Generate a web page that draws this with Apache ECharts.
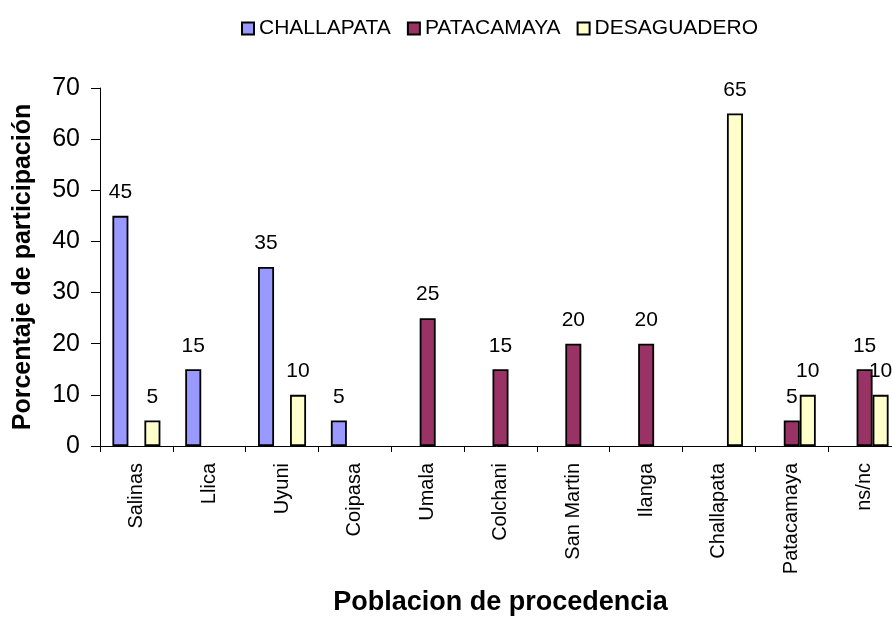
<!DOCTYPE html>
<html>
<head>
<meta charset="utf-8">
<script src="https://cdn.jsdelivr.net/npm/echarts@6/dist/echarts.min.js"></script>
<style>
  html, body { margin: 0; padding: 0; background: #fff; }
  #myChart { width: 892px; height: 618px; }
</style>
</head>
<body>
<div id="myChart"></div>
<script>
// categorias del eje x
const categories = ["Salinas", "Llica", "Uyuni", "Coipasa", "Umala", "Colchani", "San Martin", "Ilanga", "Challapata", "Patacamaya", "ns/nc"];
// valores por serie (null = sin barra)
const challapata = [45, 15, 35, 5, null, null, null, null, null, null, null];
const patacamaya = [null, null, null, null, 25, 15, 20, 20, null, 5, 15];
const desaguadero = [5, null, 10, null, null, null, null, null, 65, 10, 10];
const yTicks = { min: 0, max: 70, interval: 10 };

const font = "Liberation Sans, Arial, sans-serif";

function makeSeries(name, data, color) {
  return {
    name: name,
    type: "bar",
    data: data,
    barWidth: 16,
    barGap: "0%",
    itemStyle: {
      color: color,
      borderColor: "#000",
      borderWidth: 1.8,
    },
    label: {
      show: true,
      position: "top",
      distance: 13,
      color: "#000",
      fontFamily: font,
      fontSize: 21,
    },
  };
}

const option = {
  animation: false,
  backgroundColor: "#fff",
  textStyle: { fontFamily: font, color: "#000" },
  legend: {
    left: 236,
    top: 13,
    itemWidth: 12,
    itemHeight: 12,
    itemGap: 16,
    icon: "rect",
    textStyle: { fontSize: 21, color: "#000", fontFamily: font },
  },
  grid: {
    left: 100,
    top: 88,
    bottom: 172,
    width: 801,
    containLabel: false,
    outerBoundsMode: "none",
  },
  xAxis: {
    type: "category",
    data: categories,
    name: "Poblacion de procedencia",
    nameLocation: "middle",
    nameGap: 143,
    nameTextStyle: { fontSize: 27, fontWeight: "bold", color: "#000", fontFamily: font },
    axisLine: { lineStyle: { color: "#000", width: 1 } },
    axisTick: { show: true, length: 6, lineStyle: { color: "#000" } },
    axisLabel: {
      rotate: 90,
      interval: 0,
      margin: 17,
      fontSize: 20,
      color: "#000",
      fontFamily: font,
    },
  },
  yAxis: {
    type: "value",
    min: yTicks.min,
    max: yTicks.max,
    interval: yTicks.interval,
    name: "Porcentaje de participación",
    nameLocation: "middle",
    nameRotate: 90,
    nameGap: 64,
    nameTextStyle: { fontSize: 25, fontWeight: "bold", color: "#000", fontFamily: font },
    axisLine: { show: true, lineStyle: { color: "#000", width: 1 } },
    axisTick: { show: true, length: 9, lineStyle: { color: "#000" } },
    axisLabel: { margin: 20, fontSize: 25, color: "#000", fontFamily: font },
    splitLine: { show: false },
  },
  series: [
    makeSeries("CHALLAPATA", challapata, "#9999FF"),
    makeSeries("PATACAMAYA", patacamaya, "#993366"),
    makeSeries("DESAGUADERO", desaguadero, "#FFFFCC"),
  ],
};

const myChart = echarts.init(document.getElementById("myChart"));
myChart.setOption(option);
</script>
</body>
</html>
